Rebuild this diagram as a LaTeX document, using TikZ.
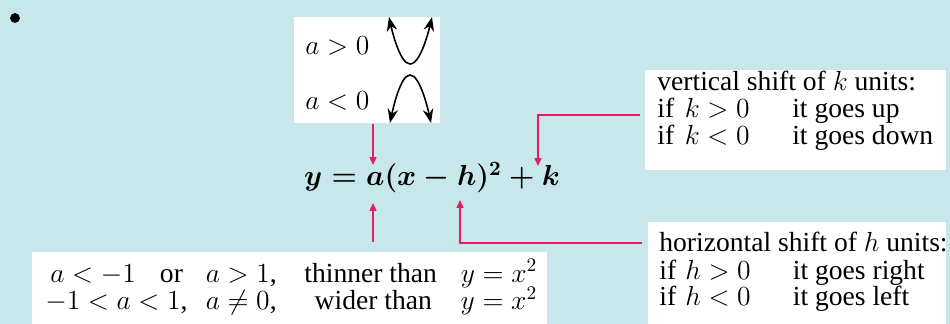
\RequirePackage{fix-cm}
\documentclass[tikz,border=0pt]{standalone}
\usepackage[no-math]{fontspec}
\setmainfont{Liberation Serif}
\newfontfamily\bookfont{Liberation Serif}
\usepackage{amsmath}
\usetikzlibrary{arrows.meta}
\usetikzlibrary{positioning}

\definecolor{bgcyan}{RGB}{200,231,235}
\definecolor{shiftpink}{RGB}{228,30,98}

\begin{document}
\begin{tikzpicture}[x=0.02cm, y=-0.02cm,
        every node/.style={font=\bookfont\fontsize{15.7}{18}\selectfont, inner sep=0pt},
        infobox/.style={fill=white, anchor=north west},
        txt/.style={anchor=base west},
        eqfont/.style={font={\fontsize{16.5}{20}\selectfont\boldmath}},
        pinkarrow/.style={shiftpink, line width=0.6pt, -{Triangle[length=4.5pt,width=4pt]}},
        curvearrow/.style={line width=0.9pt, {Stealth[length=8pt,width=6pt]}-{Stealth[length=8pt,width=6pt]}}]

        % Background
        \fill[bgcyan] (0,0) rectangle (950,324);
        \useasboundingbox (0,0) rectangle (950,324);
        \fill (15,18) circle (2.8pt);

        % White boxes
        \node[infobox, minimum width=2.92cm, minimum height=2.12cm] (abox) at (294,17) {};
        \node[infobox, minimum width=6.02cm, minimum height=2cm] (kbox) at (645,70) {};
        \node[infobox, minimum width=5.96cm, minimum height=2.04cm] (hbox) at (648,222) {};
        \node[infobox, minimum width=10.3cm, minimum height=1.44cm] (wbox) at (32,252) {};

        % Sign of a
        \node[txt] (acase1) at (305,55) {$a>0$};
        \node[txt] (acase2) at (305,110) {$a<0$};
        \draw[curvearrow] (389,17) parabola bend (410,64) (432,17);
        \draw[curvearrow] (390,123) parabola bend (410,75) (431,123);

        % Vertex form
        \node[anchor=base, eqfont] (eq) at (432,186) {$y=a(x-h)^2+k$};

        % Shift of k
        \node[txt] (kline1) at (657,91) {vertical shift of $k$ units:};
        \node[txt] (kline2) at (657,118) {\makebox[15.6pt][l]{if}\makebox[61.2pt][l]{$k>0$}it goes up};
        \node[txt] (kline3) at (657,145) {\makebox[15.6pt][l]{if}\makebox[61.2pt][l]{$k<0$}it goes down};

        % Shift of h
        \node[txt] (hline1) at (659,252) {horizontal shift of $h$ units:};
        \node[txt] (hline2) at (659,279) {\makebox[14.8pt][l]{if}\makebox[61.2pt][l]{$h>0$}it goes right};
        \node[txt] (hline3) at (659,305) {\makebox[14.8pt][l]{if}\makebox[61.2pt][l]{$h<0$}it goes left};

        % Width
        \node[txt] (wline1) at (50,282) {\makebox[62.4pt][l]{$a<-1$}\makebox[26.1pt][l]{or}\makebox[56.1pt][l]{$a>1$,}\makebox[89pt][l]{thinner than}$y=x^2$};
        \node[txt] (wline2) at (45,310) {\makebox[91.3pt][l]{$-1<a<1$,}\makebox[56.1pt][l]{$a\neq0$,}\makebox[72.6pt][r]{wider than}\hspace{16.4pt}$y=x^2$};

        % Connectors
        \coordinate (a-in) at (373,165);
        \coordinate (a-from) at (373,242);
        \coordinate (a-out) at (373,203);
        \coordinate (h-from) at (642,243);
        \coordinate (h-in) at (460,200);
        \coordinate (k-from) at (640,115);
        \coordinate (k-in) at (538,166);
        \draw[pinkarrow] (abox.south -| a-in) -- (a-in);
        \draw[pinkarrow] (a-from) -- (a-out);
        \draw[pinkarrow] (h-from) -| (h-in);
        \draw[pinkarrow] (k-from) -| (k-in);
    \end{tikzpicture}
\end{document}
